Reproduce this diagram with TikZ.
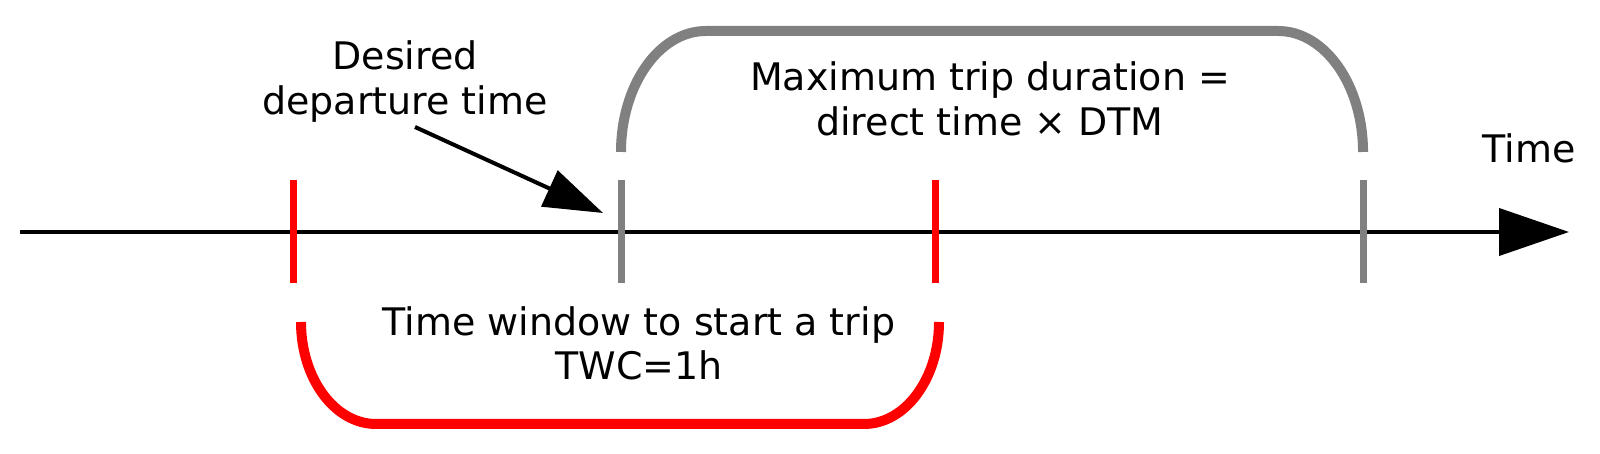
\documentclass[tikz,border=0pt]{standalone}
\usepackage{fontspec}
\setmainfont{DejaVu Sans}
\usetikzlibrary{arrows.meta}
\definecolor{windowred}{RGB}{255,0,0}
\definecolor{tripgray}{RGB}{128,128,128}

\begin{document}
\begin{tikzpicture}[
        lbl/.style={font=\fontsize{10.8}{12.8}\selectfont, align=center, anchor=base, inner sep=0pt},
        tick/.style={line width=0.07cm},
        bracket/.style={line width=0.10cm},
        axis/.style={line width=0.04cm, -{Triangle[length=0.7cm, width=0.47cm]}},
        pointer/.style={line width=0.04cm, -{Triangle[length=0.59cm, width=0.39cm]}}
    ]
        \useasboundingbox (0,0) rectangle (16,4.54);

        % Zeitachse
        \coordinate (axisstart) at (0.20, 2.22);
        \coordinate (axisend) at (15.69, 2.22);
        \draw[axis] (axisstart) -- (axisend);
        \node[lbl] (time) at (15.29, 2.91) {Time};

        % Markierungen
        \draw[tick, windowred] (2.93, 1.71) -- (2.93, 2.74);
        \draw[tick, windowred] (9.35, 1.71) -- (9.35, 2.74);
        \draw[tick, tripgray] (6.21, 1.71) -- (6.21, 2.74);
        \draw[tick, tripgray] (13.63, 1.71) -- (13.63, 2.74);

        % maximale Reisedauer
        \draw[bracket, tripgray] (6.21, 3.02) arc[start angle=180, end angle=90, x radius=0.85, y radius=1.21]
            -- (12.78, 4.23) arc[start angle=90, end angle=0, x radius=0.85, y radius=1.21];
        \node[lbl] (maxtrip) at (9.90, 3.18) {Maximum trip duration =\\direct time × DTM};

        % Zeitfenster
        \draw[bracket, windowred] (3.01, 1.32) arc[start angle=180, end angle=270, x radius=0.75, y radius=1.02]
            -- (8.64, 0.30) arc[start angle=270, end angle=360, x radius=0.75, y radius=1.02];
        \node[lbl] (window) at (6.39, 0.74) {Time window to start a trip\\TWC=1h};

        % gewünschte Abfahrtszeit
        \node[lbl] (desired) at (4.05, 3.39) {Desired\\departure time};
        \coordinate (desiredfrom) at (4.15, 3.27);
        \coordinate (desiredtip) at (6.03, 2.41);
        \draw[pointer] (desiredfrom) -- (desiredtip);
    \end{tikzpicture}
\end{document}
